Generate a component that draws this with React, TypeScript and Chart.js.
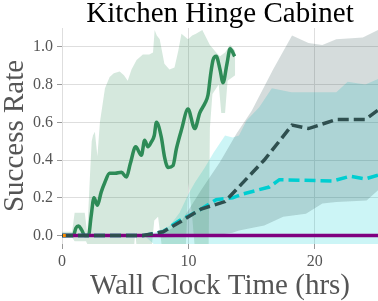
import React, { useEffect, useRef } from "react";
import { Chart, registerables } from "chart.js";

Chart.register(...registerables);

const TITLE = "Kitchen Hinge Cabinet";
const X_TITLE = "Wall Clock Time (hrs)";
const Y_TITLE = "Success Rate";

const xTicks = [0, 10, 20];
const yTicks = [0, 0.2, 0.4, 0.6, 0.8, 1.0];

// Green (solid) mean line
const greenT = [0, 0.9, 1.1, 1.3, 1.55, 1.8, 2.1, 2.3, 2.53, 2.8, 3.1, 3.38, 3.77, 4.2, 4.7, 5.1, 5.4, 5.83, 6.28, 6.54, 6.8, 7.07, 7.3, 7.47, 7.86, 8.1, 8.39, 8.78, 9.05, 9.45, 9.97, 10.5, 10.9, 11.3, 11.55, 11.75, 11.95, 12.2, 12.5, 12.74, 13.05, 13.3, 13.66];
const greenY = [0, 0, 0.04, 0.05, 0.03, 0.0, 0.0, 0.1, 0.2, 0.16, 0.23, 0.28, 0.33, 0.33, 0.335, 0.31, 0.38, 0.47, 0.425, 0.505, 0.47, 0.496, 0.53, 0.6, 0.52, 0.42, 0.36, 0.37, 0.46, 0.56, 0.67, 0.567, 0.65, 0.7, 0.745, 0.85, 0.93, 0.95, 0.88, 0.81, 0.91, 0.99, 0.95];
const greenUpT = [0, 0.8, 1.0, 1.8, 2.0, 2.2, 2.35, 2.45, 2.6, 2.8, 3.0, 3.4, 3.77, 4.1, 4.56, 4.9, 5.2, 5.5, 5.9, 6.4, 6.9, 7.2, 7.33, 7.5, 7.73, 8.1, 8.5, 8.9, 9.2, 9.45, 9.97, 10.3, 10.6, 11.1, 11.4, 11.7, 12.2, 12.5, 12.9, 13.3, 13.7];
const greenUp = [0.02, 0.02, 0.12, 0.12, 0.01, 0.3, 0.5, 0.53, 0.55, 0.42, 0.6, 0.78, 0.84, 0.86, 0.87, 0.85, 0.82, 0.88, 0.93, 0.96, 0.96, 0.97, 1.09, 1.06, 1.04, 0.91, 0.88, 0.89, 0.98, 1.07, 1.04, 1.06, 1.07, 1.09, 1.05, 1.01, 0.97, 0.95, 0.97, 1.01, 0.98];
const greenLoT = [0, 0.8, 1.0, 1.9, 2.1, 5.7, 5.8, 5.9, 7.1, 7.3, 7.6, 7.9, 9.8, 10.0, 10.3, 10.5, 11.6, 11.7, 11.9, 12.4, 12.6, 12.9, 13.1, 13.7];
const greenLo = [-0.01, -0.01, -0.03, -0.03, -0.06, -0.06, 0.02, -0.06, -0.06, 0.08, 0.1, -0.06, -0.06, 0.28, 0.1, -0.06, -0.06, 0.57, 0.75, 0.8, 0.65, 0.65, 0.82, 0.85];

// Dark slate (dashed) mean line
const darkT = [0, 6.4, 8.0, 9.3, 11.0, 12.9, 16.0, 18.2, 19.5, 21.7, 24.0, 25];
const darkY = [0, 0, 0.02, 0.07, 0.14, 0.18, 0.4, 0.585, 0.567, 0.615, 0.615, 0.665];
const greyUpT = [0, 6.3, 7.5, 8.5, 9.3, 11.0, 12.5, 13.8, 15.0, 16.7, 18.2, 19.5, 20.6, 21.7, 23.8, 25];
const greyUp = [0, 0, 0.01, 0.03, 0.06, 0.24, 0.39, 0.54, 0.66, 0.88, 1.06, 1.02, 1.01, 1.04, 1.05, 1.09];
const greyLoT = [0, 6.3, 8, 12, 13.5, 14, 16, 17.5, 19.3, 20.6, 21.7, 24.1, 25];
const greyLo = [0, 0, -0.01, 0, 0.015, 0.027, 0.053, 0.1, 0.115, 0.17, 0.177, 0.186, 0.24];

// Cyan (dashed) mean line
const cyanT = [0, 6.5, 8.0, 9.3, 10.5, 12.2, 13.5, 14.3, 16.4, 17.2, 21.4, 22.8, 24.0, 25];
const cyanY = [0, 0, 0.02, 0.08, 0.12, 0.19, 0.2, 0.22, 0.257, 0.296, 0.289, 0.314, 0.3, 0.32];
const cyanUpT = [0, 6.5, 7.5, 8.5, 9.3, 10.0, 10.5, 11.3, 12.0, 12.9, 13.5, 14.0, 14.6, 15.6, 16.6, 18.15, 21.7, 22.6, 24.0, 25];
const cyanUp = [0, 0, 0.02, 0.05, 0.12, 0.22, 0.28, 0.36, 0.44, 0.53, 0.52, 0.53, 0.61, 0.68, 0.78, 0.76, 0.76, 0.815, 0.8, 0.83];
const cyanLoT = [0, 6.5, 7.5, 25];
const cyanLo = [0, 0, -0.06, -0.06];

// Purple flat line and short orange line at start
const purpleT = [0, 25];
const purpleY = [0, 0];
const orangeT = [0.08, 0.3];
const orangeY = [0, 0];

const pts = (xs: number[], ys: number[]) => xs.map((x, i) => ({ x, y: ys[i] }));

const SERIF = '"Liberation Serif", "Times New Roman", serif';

const textPlugin = {
  id: "texts",
  afterDraw(chart: any) {
    const { ctx, chartArea } = chart;
    const cx = (chartArea.left + chartArea.right) / 2;
    const cy = (chartArea.top + chartArea.bottom) / 2;
    ctx.save();
    ctx.textAlign = "center";
    ctx.textBaseline = "alphabetic";
    ctx.font = `29px ${SERIF}`;
    ctx.fillStyle = "#000";
    ctx.fillText(TITLE, cx, 21.5);
    ctx.fillStyle = "#555";
    ctx.fillText(X_TITLE, cx, 294);
    ctx.translate(23, cy);
    ctx.rotate(-Math.PI / 2);
    ctx.fillText(Y_TITLE, 0, 0);
    ctx.restore();
  },
};

export default function App() {
  const ref = useRef<HTMLCanvasElement | null>(null);
  useEffect(() => {
    if (!ref.current) return;
    const line = (data: any, color: string, width: number, dash: number[] = [], extra: any = {}) => ({
      data,
      borderColor: color,
      backgroundColor: color,
      borderWidth: width,
      borderDash: dash,
      pointRadius: 0,
      fill: false,
      tension: 0,
      ...extra,
    });
    const bandEdge = (data: any, fillColor: string | null) => ({
      data,
      borderWidth: 0,
      borderColor: "rgba(0,0,0,0)",
      backgroundColor: fillColor || "rgba(0,0,0,0)",
      pointRadius: 0,
      fill: fillColor ? "+1" : false,
      tension: 0,
    });
    const chart = new Chart(ref.current, {
      type: "line",
      data: {
        datasets: [
          line(pts(orangeT, orangeY), "#ff8c00", 3),
          line(pts(darkT, darkY), "#2f4f4f", 3.5, [11, 5]),
          line(pts(purpleT, purpleY), "#800080", 3.5),
          line(pts(cyanT, cyanY), "#00ced1", 3.5, [11, 5]),
          line(pts(greenT, greenY), "#2e8b57", 3.5, [], { cubicInterpolationMode: "monotone" }),
          bandEdge(pts(greenUpT, greenUp), "rgba(46,139,87,0.2)"),
          bandEdge(pts(greenLoT, greenLo), null),
          bandEdge(pts(greyUpT, greyUp), "rgba(47,79,79,0.2)"),
          bandEdge(pts(greyLoT, greyLo), null),
          bandEdge(pts(cyanUpT, cyanUp), "rgba(0,206,209,0.2)"),
          bandEdge(pts(cyanLoT, cyanLo), null),
        ] as any,
      },
      options: {
        animation: false,
        responsive: false,
        layout: { padding: { top: 28, left: 0, right: 0, bottom: 0 } },
        plugins: {
          legend: { display: false },
          tooltip: { enabled: false },
          title: { display: false },
        },
        scales: {
          x: {
            type: "linear",
            min: 0,
            max: 25,
            afterBuildTicks: (s: any) => {
              s.ticks = xTicks.map((v) => ({ value: v }));
            },
            afterFit: (s: any) => {
              s.height = 57;
            },
            ticks: {
              font: { family: SERIF, size: 16 },
              color: "#555",
              padding: 3,
              maxRotation: 0,
              callback: (v: any) => String(v),
            },
            grid: { color: "#dedede", lineWidth: 1, tickLength: 5, tickColor: "#999", drawTicks: true },
            border: { display: false },
          },
          y: {
            type: "linear",
            min: -0.045,
            max: 1.1,
            afterBuildTicks: (s: any) => {
              s.ticks = yTicks.map((v) => ({ value: v }));
            },
            afterFit: (s: any) => {
              s.width = 62;
            },
            ticks: {
              font: { family: SERIF, size: 16 },
              color: "#555",
              padding: 4,
              callback: (v: any) => Number(v).toFixed(1),
            },
            grid: { color: "#dedede", lineWidth: 1, tickLength: 5, tickColor: "#999", drawTicks: true },
            border: { display: false },
          },
        },
      } as any,
      plugins: [textPlugin],
    });
    return () => chart.destroy();
  }, []);
  return (
    <div style={{ position: "fixed", left: 0, top: 0, width: 378, height: 301, background: "#fff" }}>
      <canvas ref={ref} width={378} height={301} style={{ display: "block" }} />
    </div>
  );
}
